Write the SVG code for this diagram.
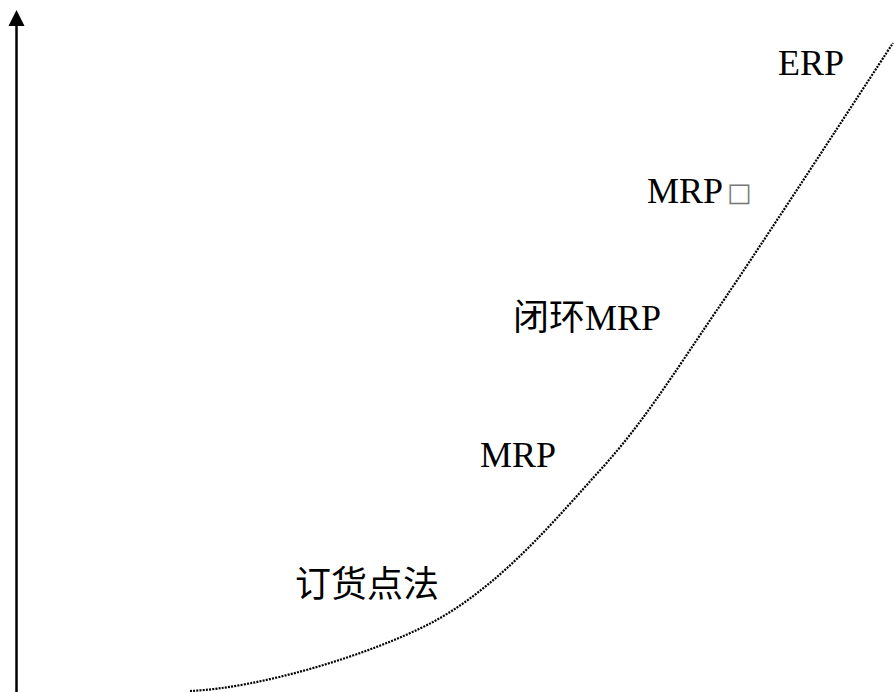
<svg xmlns="http://www.w3.org/2000/svg" width="895" height="692" viewBox="0 0 895 692">
<style>
.lbl{font-family:"Liberation Serif","Noto Sans CJK SC",serif;font-size:36px;fill:#000}
.curve{fill:none;stroke:#000;stroke-width:2.2;stroke-dasharray:2 1.2}
.axis{stroke:#000;stroke-width:2.5;fill:none}
</style>
<rect width="895" height="692" fill="#fff"/>
<g id="connectors">
<path id="axis-y" class="axis" d="M16.5,692 L16.5,26"/>
<path d="M16.5,10 L24.5,26 L8.5,26 Z" fill="#000"/>
<path id="growth-curve" class="curve" d="M190,691 C260,688 370,655 433,622 C501.8,584.7 555.7,519 603,467 C645,420 672,376 717,310 C765.3,239.3 863.7,87.5 893,43"/>
</g>
<g id="node-erp"><text class="lbl" x="778" y="75">ERP</text></g>
<g id="node-mrp2"><text class="lbl" x="647" y="203">MRP<tspan font-family="DejaVu Sans,sans-serif" font-size="26" fill="#777" dx="4" dy="-2">□</tspan></text></g>
<g id="node-closed-mrp"><text class="lbl" x="513" y="330">闭环MRP</text></g>
<g id="node-mrp"><text class="lbl" x="480" y="467">MRP</text></g>
<g id="node-reorder"><text class="lbl" x="295" y="597">订货点法</text></g>
</svg>
